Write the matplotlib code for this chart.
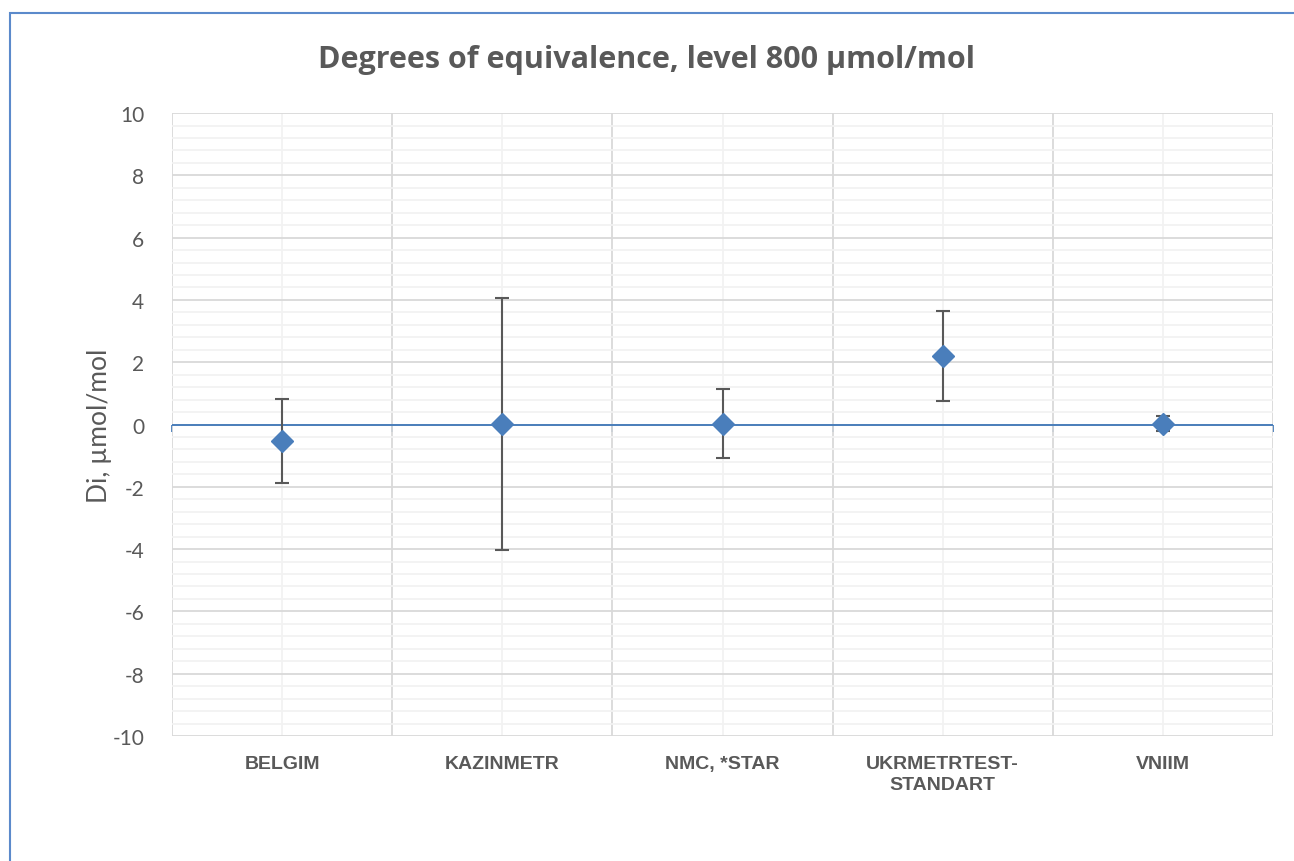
import numpy as np
import matplotlib.pyplot as plt
from matplotlib.patches import Rectangle
from matplotlib.ticker import MultipleLocator

plt.rcParams['axes.unicode_minus'] = False

labs = ['BELGIM', 'KAZINMETR', 'NMC, *STAR', 'UKRMETRTEST-\nSTANDART', 'VNIIM']
di = [-0.53, 0.02, 0.03, 2.20, 0.03]
Ui = [1.35, 4.05, 1.10, 1.43, 0.24]

grey = '#595959'
blue = '#4A7EBB'

fig = plt.figure(figsize=(12.94, 8.62), dpi=100)
ax = fig.add_axes([0.1329, 0.145, 0.8509, 0.7227])

x = np.arange(len(labs))
ax.axhline(0, color=blue, lw=1.4, zorder=2)
ax.errorbar(x, di, yerr=Ui, fmt='D', color=blue, ms=11, ecolor=grey,
            elinewidth=1.5, capsize=5, capthick=1.5, zorder=5)

ax.set_xlim(-0.5, len(labs) - 0.5)
ax.set_ylim(-10, 10)
ax.yaxis.set_major_locator(MultipleLocator(2))
ax.yaxis.set_minor_locator(MultipleLocator(0.4))
ax.set_xticks(x)
ax.set_xticklabels(labs, fontsize=14, fontweight='bold', color=grey,
                   family='Liberation Sans', linespacing=1.25)
ax.set_xticks(np.arange(len(labs) + 1) - 0.5, minor=True)
ax.tick_params(axis='x', which='both', length=0, pad=14)
ax.tick_params(axis='y', which='both', length=0, labelsize=15, labelcolor=grey, pad=20)
for t in ax.get_yticklabels():
    t.set_family('Lato')

ax.grid(which='major', axis='y', color='#D9D9D9', lw=1.3)
ax.grid(which='minor', axis='y', color='#F2F2F2', lw=1.3)
ax.grid(which='minor', axis='x', color='#D9D9D9', lw=1.3)
ax.grid(which='major', axis='x', color='#F2F2F2', lw=1.3)
ax.set_axisbelow(True)
for s in ax.spines.values():
    s.set_visible(False)

# tick marks of the horizontal axis crossing at zero
sec = ax.secondary_xaxis(0.5)
sec.set_alignment('bottom')
sec.set_xticks(np.arange(len(labs) + 1) - 0.5)
sec.tick_params(direction='out', length=5, width=1.3, color=blue,
                labelbottom=False, labeltop=False)
sec.spines['bottom'].set_visible(False)

ax.set_ylabel('Di, µmol/mol', fontsize=19, color=grey, family='Lato', labelpad=0)

fig.text(0.5, 0.930, 'Degrees of equivalence, level 800 µmol/mol', ha='center', va='center',
         fontsize=22, fontweight='bold', color=grey, family='Open Sans')

fig.patches.append(Rectangle((10 / 1294, -0.05), 1.2, 1.05 - 14 / 862, transform=fig.transFigure,
                             fill=False, ec='#5B8ACB', lw=1.5))

fig.savefig('out.png', dpi=100)
